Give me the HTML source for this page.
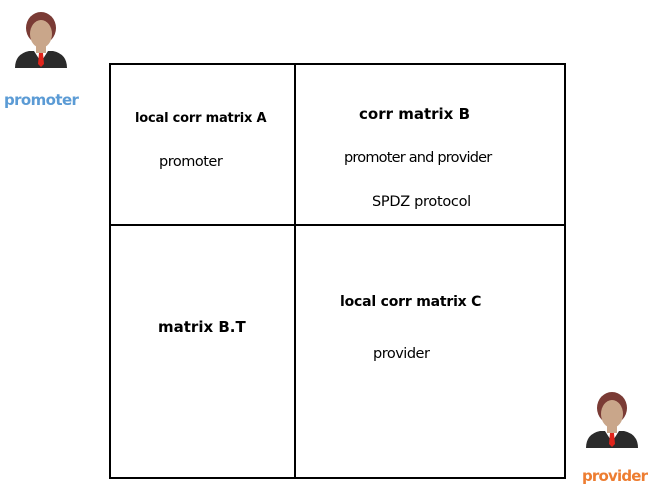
<!DOCTYPE html>
<html><head><style>
body{margin:0;background:#fff;width:659px;height:500px;position:relative;overflow:hidden;font-family:"DejaVu Sans",sans-serif}
.t{position:absolute;white-space:nowrap;line-height:1;color:#000}
.b{font-weight:bold}
svg{position:absolute;left:0;top:0}
</style></head><body>
<svg width="659" height="500" xmlns="http://www.w3.org/2000/svg">
<defs>
<g id="p">
<path d="M-26,36 Q-26,22 -12,19 L12,19 Q26,22 26,36 Z" fill="#2b2b2b"/>
<path d="M-7,19 L0,30 L7,19 Z" fill="#fff"/>
<path d="M-2,21 L2,21 L3,32 L0,35 L-3,32 Z" fill="#e0241b"/>
<rect x="-5" y="12" width="10" height="9" fill="#c9a68a"/>
<ellipse cx="0" cy="-4" rx="15" ry="16" fill="#7a3b35"/>
<ellipse cx="0" cy="2" rx="11" ry="14" fill="#c9a68a"/>
<path d="M-14,-2 Q-8,-14 6,-12 Q12,-8 14,-2 Q12,-17 0,-19 Q-15,-17 -14,-2Z" fill="#7a3b35"/>
</g>
</defs>
<use href="#p" x="41" y="32"/>
<use href="#p" x="612" y="412"/>
<g stroke="#000" stroke-width="2" fill="none">
<rect x="110" y="64" width="455" height="414"/>
<line x1="295" y1="64" x2="295" y2="478"/>
<line x1="110" y1="225" x2="565" y2="225"/>
</g>
</svg>
<div class="t b" style="left:4px;top:93px;font-size:15px;color:#5b9bd5;letter-spacing:-0.6px">promoter</div>
<div class="t b" style="left:582px;top:469px;font-size:15px;color:#ed7d31;letter-spacing:-0.8px">provider</div>
<div class="t b" style="left:135px;top:112px;font-size:13px;letter-spacing:-0.2px">local corr matrix A</div>
<div class="t" style="left:159px;top:155px;font-size:14.5px;letter-spacing:-0.5px">promoter</div>
<div class="t b" style="left:359px;top:107px;font-size:15px;letter-spacing:0px">corr matrix B</div>
<div class="t" style="left:344px;top:151px;font-size:14.5px;letter-spacing:-0.8px">promoter and provider</div>
<div class="t" style="left:372px;top:195px;font-size:14.5px;letter-spacing:-0.3px">SPDZ protocol</div>
<div class="t b" style="left:158px;top:320px;font-size:15px;letter-spacing:0px">matrix B.T</div>
<div class="t b" style="left:340px;top:295px;font-size:14px;letter-spacing:-0.2px">local corr matrix C</div>
<div class="t" style="left:373px;top:347px;font-size:14.5px;letter-spacing:-0.5px">provider</div>
</body></html>
